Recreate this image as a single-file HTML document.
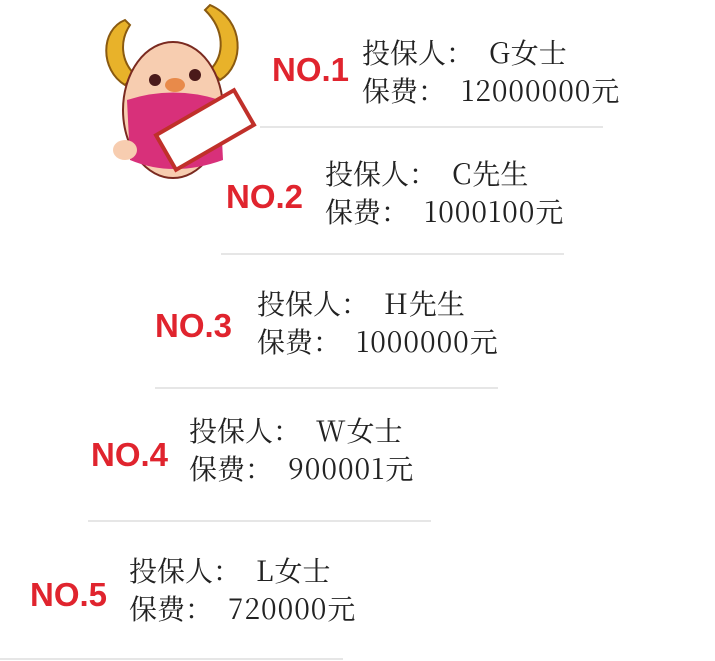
<!DOCTYPE html>
<html><head><meta charset="utf-8"><style>
body{margin:0;width:715px;height:661px;background:#fff;position:relative;overflow:hidden}
.no{position:absolute;font:bold 33px "Liberation Sans",sans-serif;color:#e0242e;line-height:40px}
.t{position:absolute;font:28px "Noto Serif CJK SC","Liberation Serif",serif;color:#222;line-height:38px;white-space:nowrap}
.t b{font-weight:normal;letter-spacing:1px;margin-left:15px}
.d{position:absolute;height:2px;background:#e6e6e6}
</style></head><body>
<svg style="position:absolute;left:95px;top:0" width="170" height="185" viewBox="0 0 170 185">
<path d="M30 20 C5 30 5 70 30 85 L40 75 C25 60 25 40 35 25Z" fill="#e8b22a" stroke="#8a5a10" stroke-width="2"/>
<path d="M115 5 C150 20 150 65 125 80 L115 70 C130 55 130 30 110 10Z" fill="#e8b22a" stroke="#8a5a10" stroke-width="2"/>
<ellipse cx="78" cy="110" rx="50" ry="68" fill="#f7cdb0" stroke="#7a2a20" stroke-width="2"/>
<path d="M32 100 Q78 85 125 100 L128 160 Q78 178 35 160Z" fill="#d8307a"/>
<circle cx="60" cy="80" r="6" fill="#4a1a1a"/><circle cx="100" cy="75" r="6" fill="#4a1a1a"/>
<ellipse cx="80" cy="85" rx="10" ry="7" fill="#e88a4a"/>
<rect x="65" y="110" width="90" height="40" transform="rotate(-30 110 130)" fill="#fff" stroke="#c0302a" stroke-width="4"/>
<ellipse cx="30" cy="150" rx="12" ry="10" fill="#f7cdb0"/>
</svg>
<div class="no" style="left:272px;top:50px">NO.1</div>
<div class="t" style="left:362px;top:33px">投保人：<b>G</b>女士<br>保费：<b>12000000</b>元</div>
<div class="d" style="left:260px;top:126px;width:343px"></div>
<div class="no" style="left:226px;top:177px">NO.2</div>
<div class="t" style="left:325px;top:154px">投保人：<b>C</b>先生<br>保费：<b>1000100</b>元</div>
<div class="d" style="left:221px;top:253px;width:343px"></div>
<div class="no" style="left:155px;top:306px">NO.3</div>
<div class="t" style="left:257px;top:284px">投保人：<b>H</b>先生<br>保费：<b>1000000</b>元</div>
<div class="d" style="left:155px;top:387px;width:343px"></div>
<div class="no" style="left:91px;top:435px">NO.4</div>
<div class="t" style="left:189px;top:411px">投保人：<b>W</b>女士<br>保费：<b>900001</b>元</div>
<div class="d" style="left:88px;top:520px;width:343px"></div>
<div class="no" style="left:30px;top:575px">NO.5</div>
<div class="t" style="left:129px;top:551px">投保人：<b>L</b>女士<br>保费：<b>720000</b>元</div>
<div class="d" style="left:0px;top:658px;width:343px"></div>
</body></html>
